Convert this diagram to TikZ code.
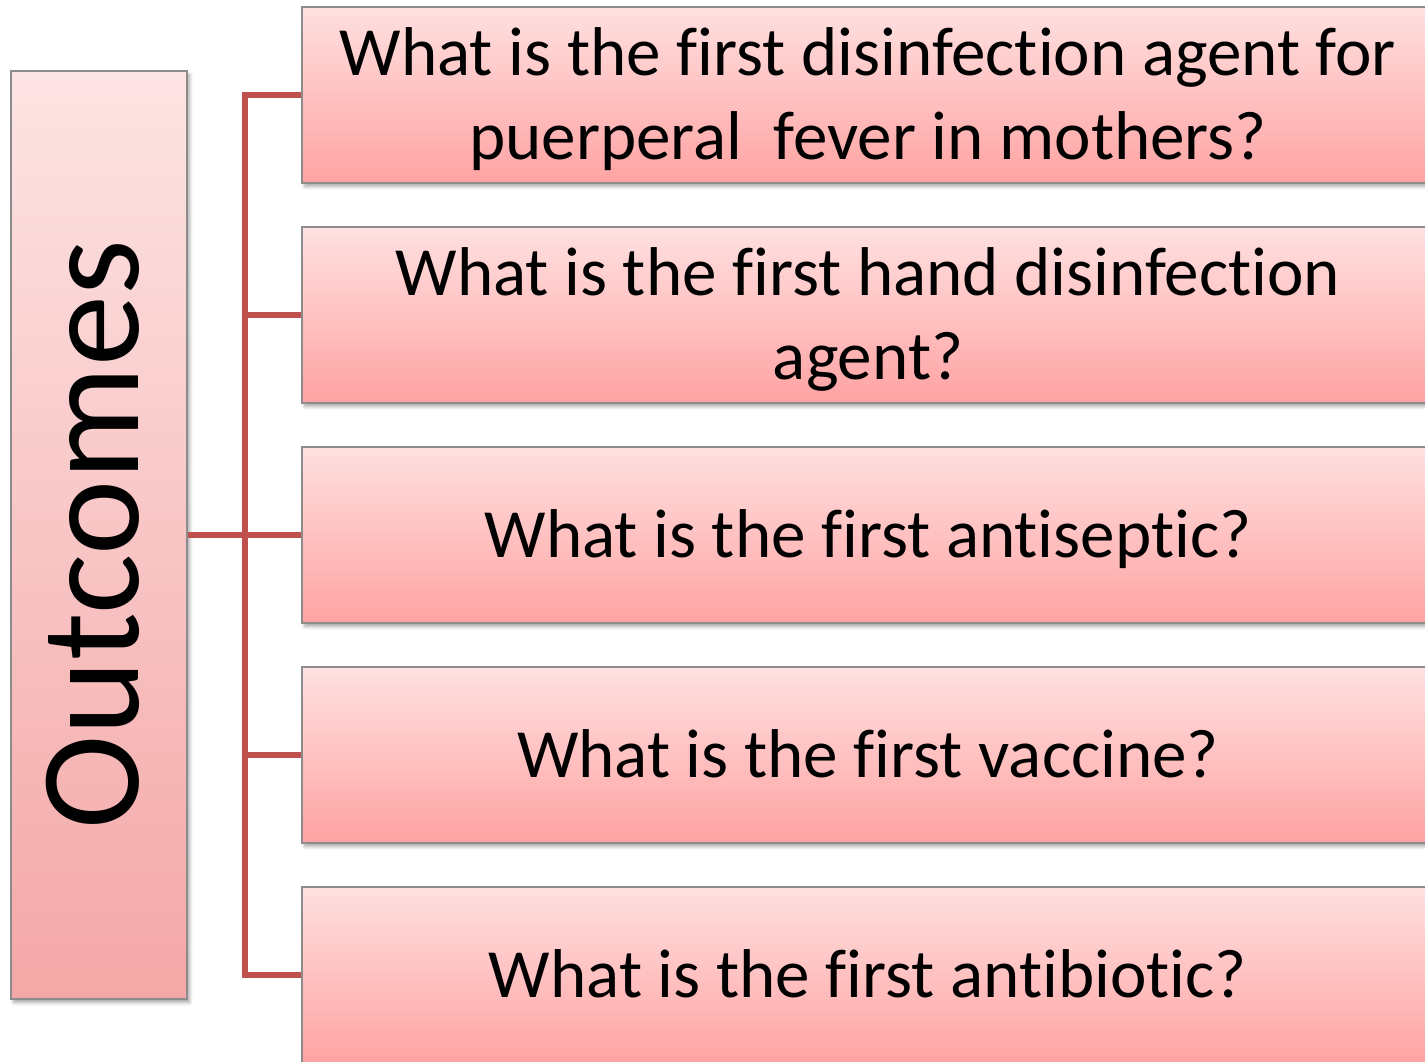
\documentclass[tikz,border=0pt]{standalone}
\usepackage{fontspec}
\setmainfont{Carlito}[Ligatures=NoCommon]
\usetikzlibrary{shadows.blur}
\definecolor{cline}{HTML}{C0504D}
\definecolor{cframe}{HTML}{8C8C8C}
\definecolor{ctopL}{HTML}{FDE4E4}
\definecolor{cbotL}{HTML}{F4A7A7}
\definecolor{ctopR}{HTML}{FFE0E0}
\definecolor{cbotR}{HTML}{FFA3A3}
% question text, lowered a little inside its box
\newcommand{\qlines}[1]{\raisebox{-0.12cm}[\height][\depth]{\begin{tabular}{@{}c@{}}#1\end{tabular}}}

\begin{document}
\begin{tikzpicture}[
  outbox/.style={draw=cframe, line width=0.6pt, top color=ctopL, bottom color=cbotL,
    minimum width=3.52cm, minimum height=18.56cm, inner sep=0pt,
    blur shadow={shadow xshift=1.5pt, shadow yshift=-2pt, shadow opacity=35, shadow blur steps=6},
    font=\fontsize{81}{97}\selectfont},
  qbox/.style={draw=cframe, line width=0.6pt, top color=ctopR, bottom color=cbotR,
    minimum width=22.64cm, minimum height=3.52cm, inner sep=0pt,
    blur shadow={shadow xshift=1.5pt, shadow yshift=-2pt, shadow opacity=35, shadow blur steps=6},
    font=\fontsize{39.3}{47.6}\selectfont},
  link/.style={cline, line width=3.2pt}]
  \useasboundingbox (0,0) rectangle (28.5,-21.22);
  \clip (0,0) rectangle (28.5,-21.22);
  % root box
  \node[outbox] (outcomes) at (1.98,-10.70) {\hspace*{-0.24cm}\rotatebox{90}{Outcomes}};
  % question boxes
  \node[qbox] (q1) at (17.36,-1.90) {\qlines{What is the first disinfection agent for\\puerperal\ \ fever in mothers?}};
  \node[qbox] (q2) at (17.36,-6.30) {\qlines{What is the first hand disinfection\\agent?}};
  \node[qbox] (q3) at (17.36,-10.70) {\qlines{What is the first antiseptic?}};
  \node[qbox] (q4) at (17.36,-15.10) {\qlines{What is the first vaccine?}};
  \node[qbox] (q5) at (17.36,-19.50) {\qlines{What is the first antibiotic?}};
  % connectors
  \coordinate (trunk) at (4.90,-10.70);
  \draw[link] (outcomes.east) -- (trunk);
  \draw[link] (q1.west) -- (q1.west -| trunk) -- (q5.west -| trunk) -- (q5.west);
  \foreach \q in {q2,q3,q4}{\draw[link] (trunk |- \q.west) -- (\q.west);}
\end{tikzpicture}
\end{document}
